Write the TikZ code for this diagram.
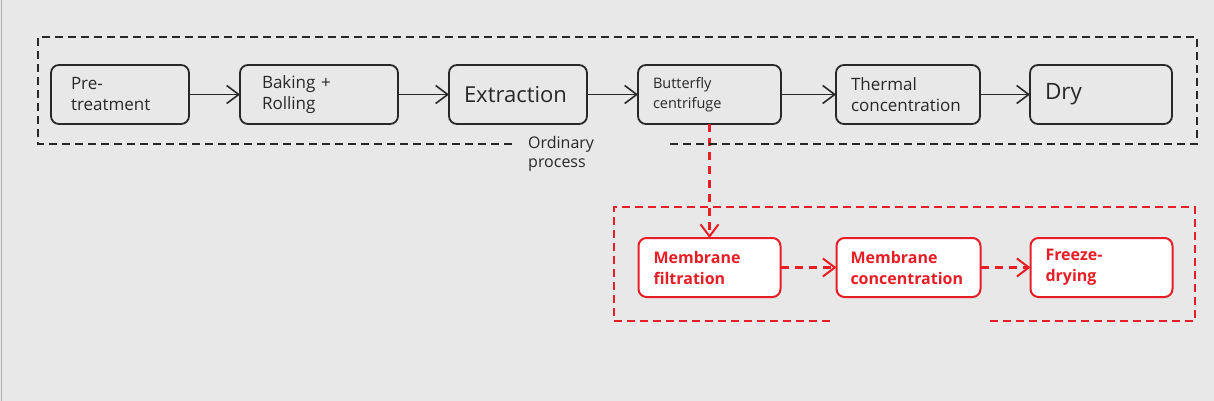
\documentclass[tikz,border=0pt]{standalone}
\usepackage{fontspec}
\setmainfont{Open Sans}
\usetikzlibrary{positioning, arrows.meta}

\definecolor{bgray}{RGB}{232,232,232}
\definecolor{boxline}{RGB}{40,40,40}
\definecolor{procred}{RGB}{232,30,38}

\tikzset{
  procbox/.style={draw=boxline, line width=1.8pt, rounded corners=8pt, outer sep=0pt,
    minimum height=59pt, inner xsep=15pt, inner ysep=0pt, align=left,
    text=boxline, font=\fontsize{17}{21}\selectfont},
  redbox/.style={procbox, draw=procred, fill=white, line width=2pt, text=procred,
    font=\fontsize{16}{21}\selectfont\bfseries},
  flow/.style={draw=boxline, line width=1.6pt,
    -{Straight Barb[length=12pt, width=18pt, line width=1.6pt]}},
  redflow/.style={draw=procred, line width=2.2pt, dash pattern=on 8pt off 6pt,
    -{Straight Barb[length=12pt, width=18pt, line width=2pt]}},
  frame/.style={line width=1.8pt, dash pattern=on 8pt off 5pt}
}

\begin{document}
\begin{tikzpicture}[x=1pt, y=-1pt]
                \useasboundingbox (0,0) rectangle (1214,401);
                \fill[bgray] (0,0) rectangle (1214,401);
                \draw[gray!60, line width=1pt] (1,0) -- (1,401);
                % ordinary process
                \node[procbox, text width=98pt, inner xsep=20pt, anchor=north west] (pre) at (51,65) {Pre-\\treatment};
                \node[procbox, text width=114pt, inner xsep=22pt, right=51pt of pre] (bake) {Baking +\\Rolling};
                \node[procbox, text width=108pt, font=\fontsize{22}{26}\selectfont, right=51pt of bake] (extract) {Extraction};
                \node[procbox, text width=113pt, font=\fontsize{14.5}{20}\selectfont, right=51pt of extract] (centri) {Butterfly\\centrifuge};
                \node[procbox, text width=114pt, right=55pt of centri] (thermal) {Thermal\\concentration};
                \node[procbox, text width=112pt, font=\fontsize{22.5}{26}\selectfont, right=50pt of thermal] (dry) {Dry};
                % membrane process
                \node[redbox, text width=112pt, below=114pt of centri] (mfilt) {Membrane\\filtration};
                \node[redbox, text width=116pt, inner xsep=14pt, right=56pt of mfilt] (mconc) {Membrane\\concentration};
                \node[redbox, text width=112pt, right=50pt of mconc] (freeze) {Freeze-\\drying};
                \draw[flow] (pre) -- (bake);
                \draw[flow] (bake) -- (extract);
                \draw[flow] (extract) -- (centri);
                \draw[flow] (centri) -- (thermal);
                \draw[flow] (thermal) -- (dry);
                \draw[redflow] (centri) -- (mfilt);
                \draw[redflow] (mfilt) -- (mconc);
                \draw[redflow] (mconc) -- (freeze);
                % frames
                \draw[frame, boxline] (512,144) -- (38,144) -- (38,37) -- (1197,37) -- (1197,144) -- (668,144);
                \node[anchor=north west, inner sep=0pt, align=left, text=boxline,
                      font=\fontsize{16}{19}\selectfont] (ordinary) at (528,136) {Ordinary\\process};
                \draw[frame, procred] (830,321) -- (614,321) -- (614,207) -- (1195,207) -- (1195,321) -- (987,321);
            \end{tikzpicture}
\end{document}
